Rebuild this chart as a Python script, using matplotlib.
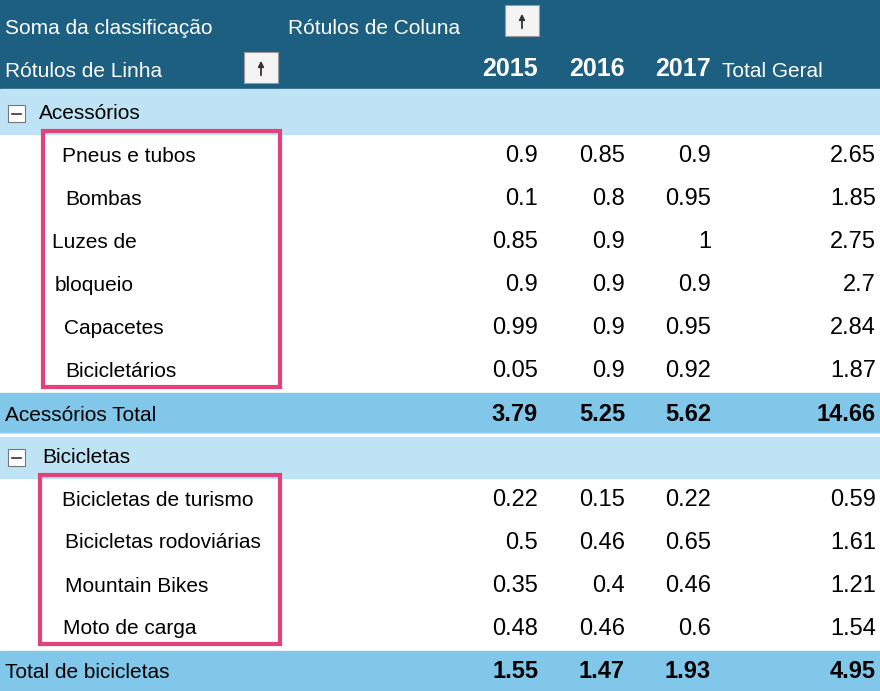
import matplotlib
matplotlib.use("Agg")
import matplotlib.pyplot as plt
from matplotlib.patches import Rectangle

years = ["2015", "2016", "2017"]
acc_labels = ["Pneus e tubos", "Bombas", "Luzes de", "bloqueio", "Capacetes", "Bicicletários"]
acc_vals = [[0.9, 0.85, 0.9, 2.65], [0.1, 0.8, 0.95, 1.85], [0.85, 0.9, 1, 2.75],
            [0.9, 0.9, 0.9, 2.7], [0.99, 0.9, 0.95, 2.84], [0.05, 0.9, 0.92, 1.87]]
acc_total = [3.79, 5.25, 5.62, 14.66]
bike_labels = ["Bicicletas de turismo", "Bicicletas rodoviárias", "Mountain Bikes", "Moto de carga"]
bike_vals = [[0.22, 0.15, 0.22, 0.59], [0.5, 0.46, 0.65, 1.61], [0.35, 0.4, 0.46, 1.21], [0.48, 0.46, 0.6, 1.54]]
bike_total = [1.55, 1.47, 1.93, 4.95]

plt.rcParams['font.family'] = ['Liberation Sans', 'DejaVu Sans']
fig = plt.figure(figsize=(8.8, 6.91), dpi=100)
ax = fig.add_axes([0, 0, 1, 1])
ax.set_xlim(0, 880); ax.set_ylim(691, 0); ax.axis('off')

HEAD = '#1d5f80'; LIGHT = '#bee3f5'; TOT = '#80c7ea'; PINK = '#e4407a'
ax.add_patch(Rectangle((0, 0), 880, 89, color=HEAD))
colx = [538, 625, 711, 876]
def fmt(v):
    return ('%g' % v)

ax.text(5, 28, "Soma da classificação", color='white', fontsize=15, va='center')
ax.text(288, 28, "Rótulos de Coluna", color='white', fontsize=15, va='center')
ax.text(5, 71, "Rótulos de Linha", color='white', fontsize=15, va='center')
for (bx, by) in [(505, 5), (244, 52)]:
    ax.add_patch(Rectangle((bx, by), 34, 31, facecolor='#f4f4f4', edgecolor='#999999', lw=0.8))
    ax.annotate('', xy=(bx + 17, by + 6), xytext=(bx + 17, by + 26),
                arrowprops=dict(arrowstyle='-|>', color='#333333', lw=1.3, mutation_scale=8))
for i, y in enumerate(years):
    ax.text(colx[i], 69, y, color='white', fontsize=18, fontweight='bold', ha='right', va='center')
ax.text(722, 71, "Total Geral", color='white', fontsize=15, va='center')

def group(y0, name, namex, labels, labxs, vals, tname, tvals):
    ax.add_patch(Rectangle((0, y0 - 24), 880, 45, color=LIGHT))
    ax.add_patch(Rectangle((8, y0 - 8), 17, 17, facecolor='white', edgecolor='#777777', lw=0.8))
    ax.plot([12, 21], [y0 + 0.5, y0 + 0.5], color='#333333', lw=1.2)
    ax.text(namex, y0, name, fontsize=15, va='center')
    for r, (lab, lx, row) in enumerate(zip(labels, labxs, vals)):
        yy = y0 + 43 * (r + 1)
        ax.text(lx, yy, lab, fontsize=15, va='center')
        for c, v in enumerate(row):
            ax.text(colx[c], yy, fmt(v), fontsize=17, ha='right', va='center')
    yt = y0 + 43 * (len(labels) + 1)
    ax.add_patch(Rectangle((0, yt - 21), 880, 42, color=TOT))
    ax.text(5, yt + 1, tname, fontsize=15, va='center')
    for c, v in enumerate(tvals):
        ax.text(colx[c], yt, fmt(v), fontsize=17, fontweight='bold', ha='right', va='center')
    return yt

group(113, "Acessórios", 39, acc_labels, [62, 65, 52, 55, 64, 65], acc_vals, "Acessórios Total", acc_total)
group(457, "Bicicletas", 42, bike_labels, [62, 65, 65, 63], bike_vals, "Total de bicicletas", bike_total)
ax.axhline(435, color='white', lw=2)

ax.add_patch(Rectangle((43, 131), 237, 256, fill=False, edgecolor=PINK, lw=3))
ax.add_patch(Rectangle((40, 475), 240, 169, fill=False, edgecolor=PINK, lw=3))
fig.savefig("out.png", dpi=100)
